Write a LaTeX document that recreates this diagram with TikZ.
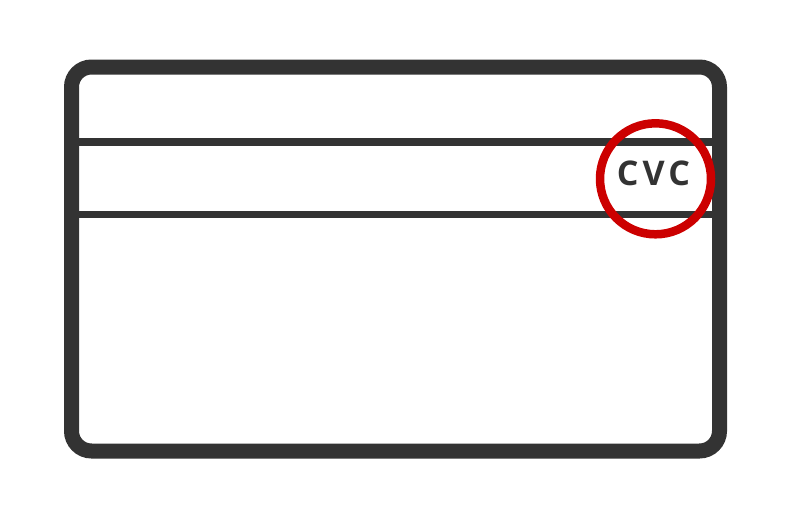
\documentclass[tikz,border=0pt]{standalone}
\usepackage{fontspec}
\newfontfamily\cardfont{Open Sans}
\definecolor{cardgray}{HTML}{333333}
\definecolor{cvcred}{HTML}{CC0000}

\begin{document}
\begin{tikzpicture}[x=1pt, y=-1pt]
    \useasboundingbox (0, 0) rectangle (797, 512);

    % magnetic stripe
    \coordinate (s1l) at (71.5, 142);
    \coordinate (s1r) at (719.5, 142);
    \coordinate (s2l) at (71.5, 214.5);
    \coordinate (s2r) at (719.5, 214.5);
    \draw[cardgray, line width=7.5pt] (s1l) -- (s1r);
    \draw[cardgray, line width=7.5pt] (s2l) -- (s2r);

    % card outline
    \draw[cardgray, line width=15pt, rounded corners=20pt] (71.5, 67) rectangle (719.5, 451);

    \node[circle, draw=cvcred, line width=8.5pt, minimum size=111pt, inner sep=0pt] (ring) at (655.5, 178.8) {};
    \node[text=cardgray, font={\cardfont\bfseries\addfontfeature{LetterSpace=12}\fontsize{34}{34}\selectfont}, inner sep=0pt] (cvc) at (653.5, 173) {CVC};
\end{tikzpicture}
\end{document}
